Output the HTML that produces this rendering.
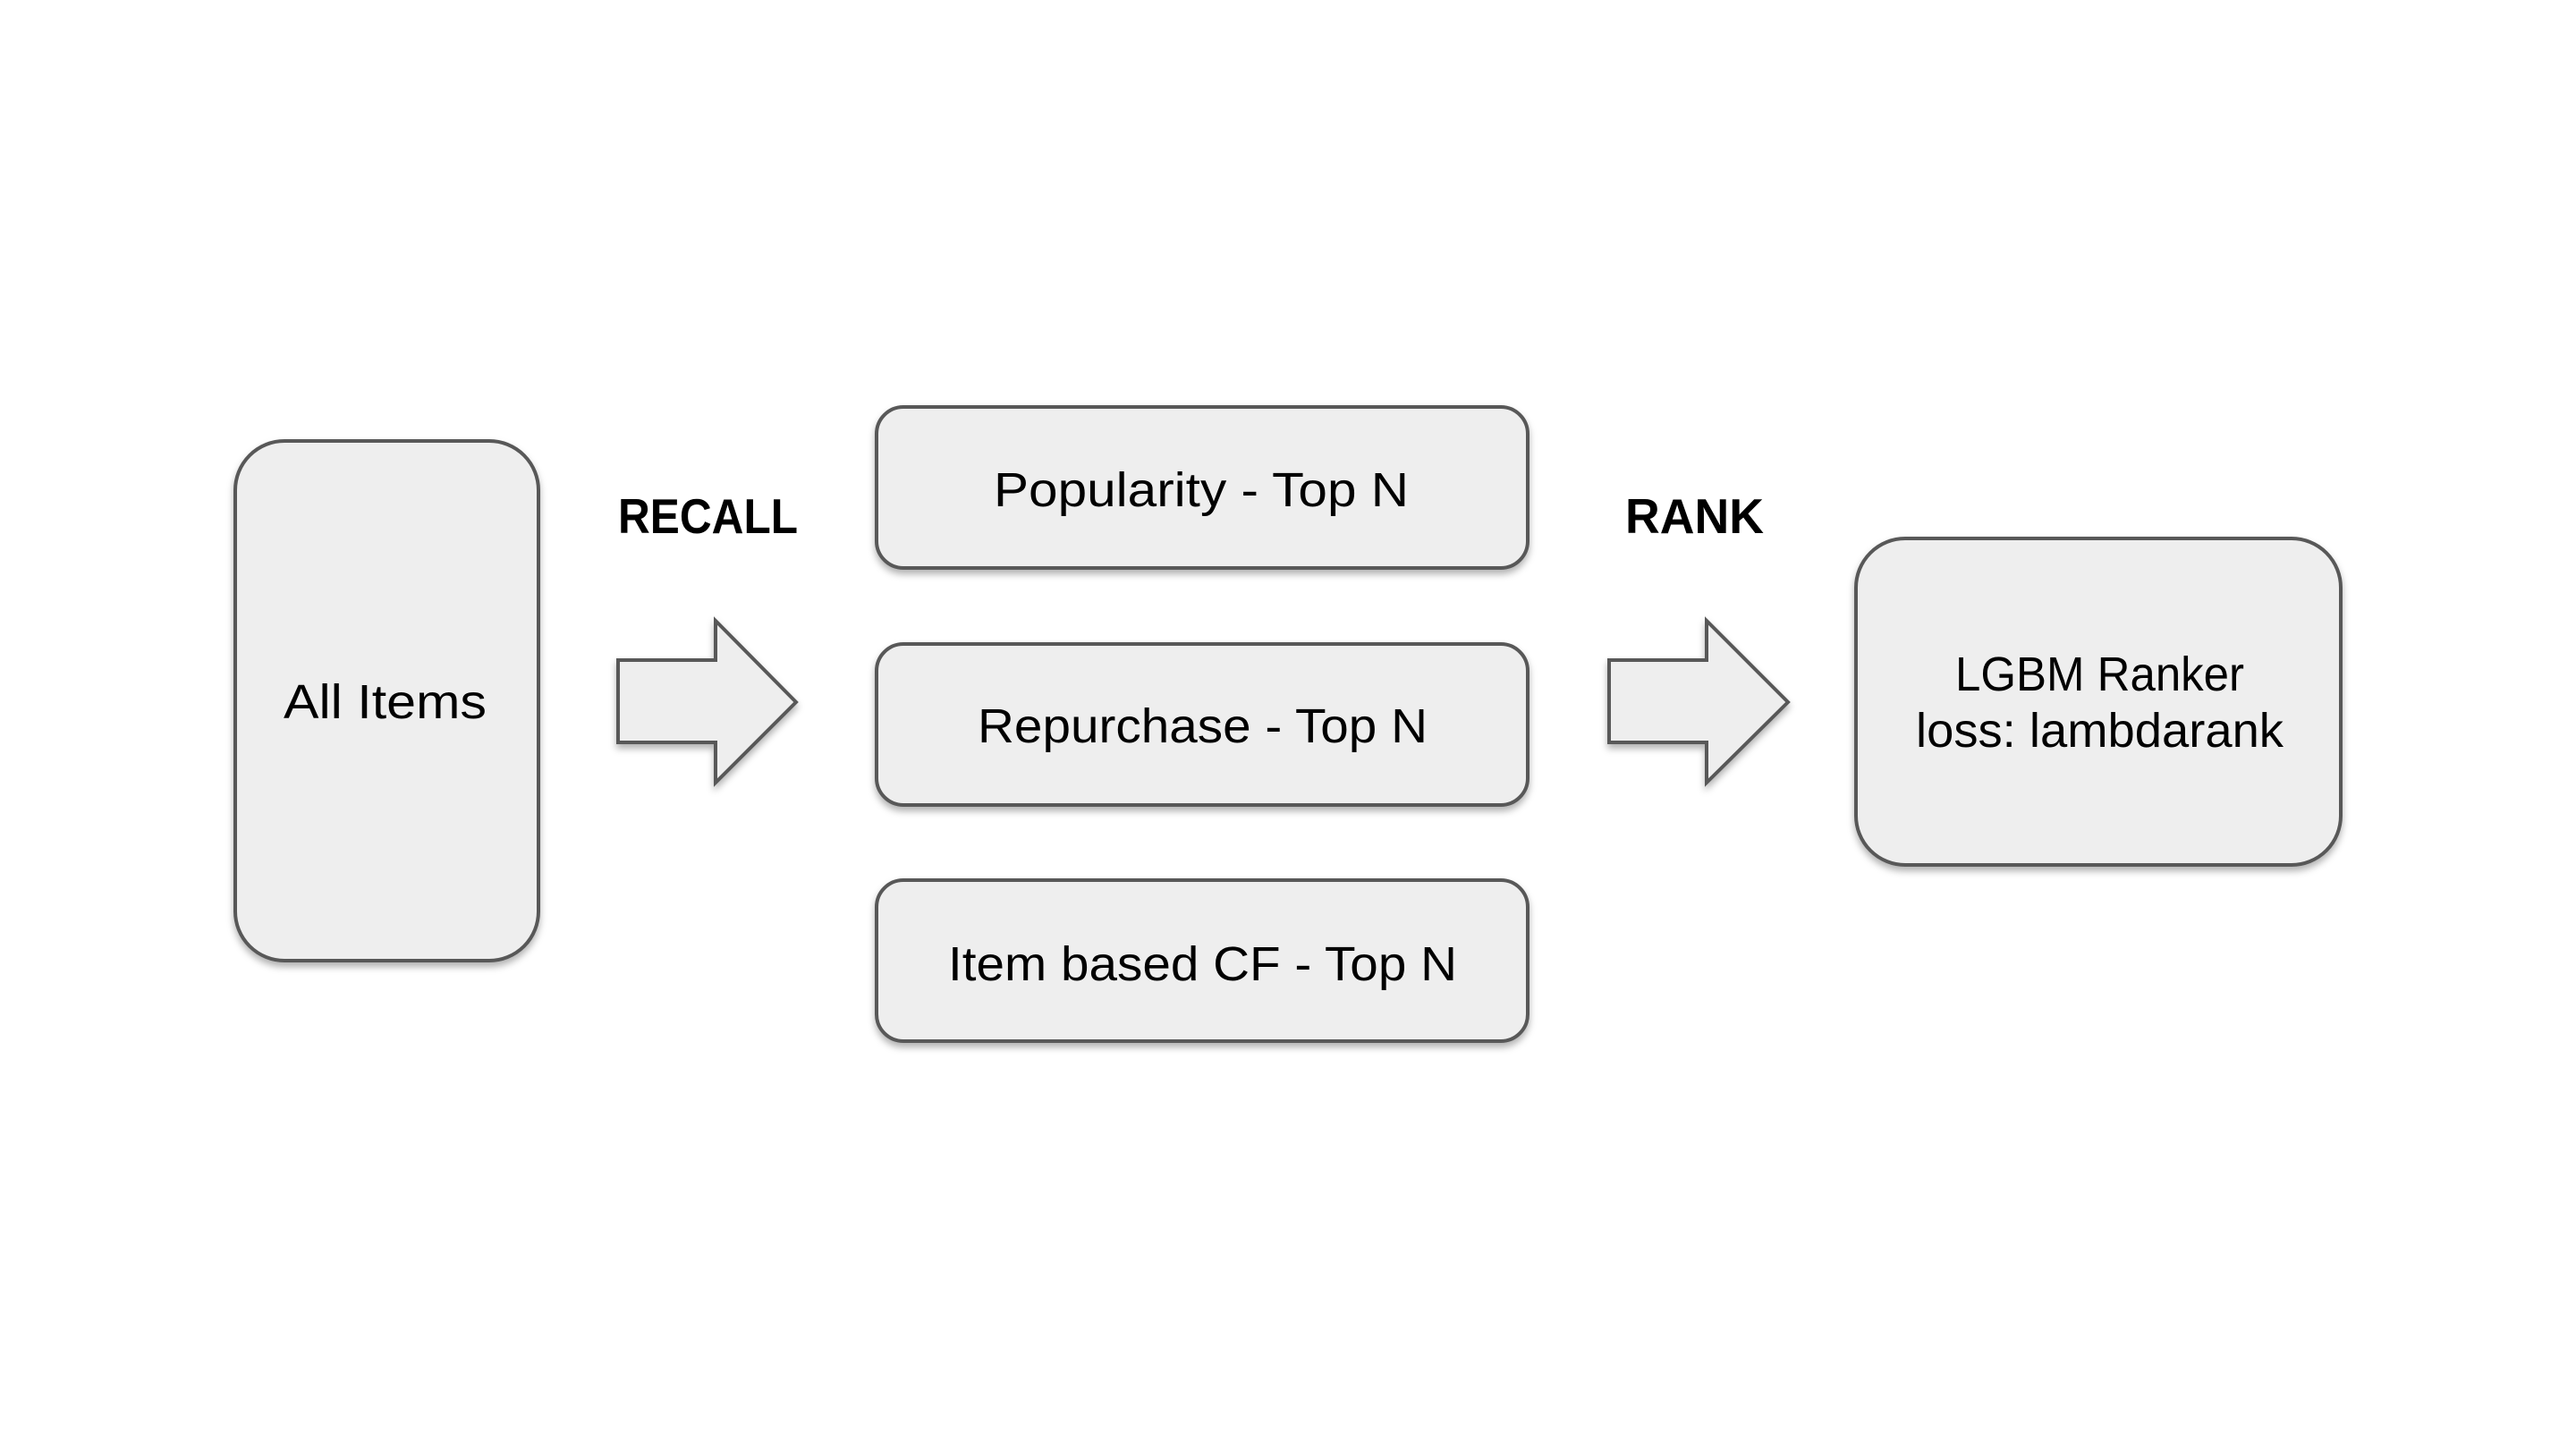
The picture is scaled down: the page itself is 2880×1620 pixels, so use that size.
<!DOCTYPE html>
<html><head><meta charset="utf-8"><style>html,body{margin:0;padding:0;background:#fff}svg{display:block}</style></head>
<body>
<svg width="2880" height="1620" viewBox="0 0 2880 1620" xmlns="http://www.w3.org/2000/svg" font-family="'Liberation Sans', 'DejaVu Sans', sans-serif">
<defs><filter id="sh" x="-10%" y="-10%" width="120%" height="130%"><feDropShadow dx="0" dy="5" stdDeviation="4" flood-color="#000" flood-opacity="0.3"/></filter></defs>
<g fill="#eeeeee" stroke="#595959" stroke-width="4" filter="url(#sh)">
<rect x="263" y="493" width="339" height="581" rx="55"/>
<rect x="980" y="455" width="728" height="180" rx="30"/>
<rect x="980" y="720" width="728" height="180" rx="30"/>
<rect x="980" y="984" width="728" height="180" rx="30"/>
<rect x="2075" y="602" width="542" height="365" rx="55"/>
<polygon points="691,738 800,738 800,694 890,785 800,875 800,830 691,830"/>
<polygon points="1799,738 1908,738 1908,694 1999,785 1908,875 1908,830 1799,830"/>
</g>
<g fill="#000" font-size="54">
<text x="317" y="803" textLength="227" lengthAdjust="spacingAndGlyphs">All Items</text>
<text x="1111" y="566" textLength="464" lengthAdjust="spacingAndGlyphs">Popularity - Top N</text>
<text x="1093" y="830" textLength="503" lengthAdjust="spacingAndGlyphs">Repurchase - Top N</text>
<text x="1060" y="1096" textLength="569" lengthAdjust="spacingAndGlyphs">Item based CF - Top N</text>
<text x="2186" y="772" textLength="323" lengthAdjust="spacingAndGlyphs">LGBM Ranker</text>
<text x="2142" y="835" textLength="411" lengthAdjust="spacingAndGlyphs">loss: lambdarank</text>
<text x="691" y="596" font-weight="bold" font-size="55" textLength="201" lengthAdjust="spacingAndGlyphs">RECALL</text>
<text x="1817" y="596" font-weight="bold" font-size="55" textLength="155" lengthAdjust="spacingAndGlyphs">RANK</text>
</g>
</svg>
</body></html>
